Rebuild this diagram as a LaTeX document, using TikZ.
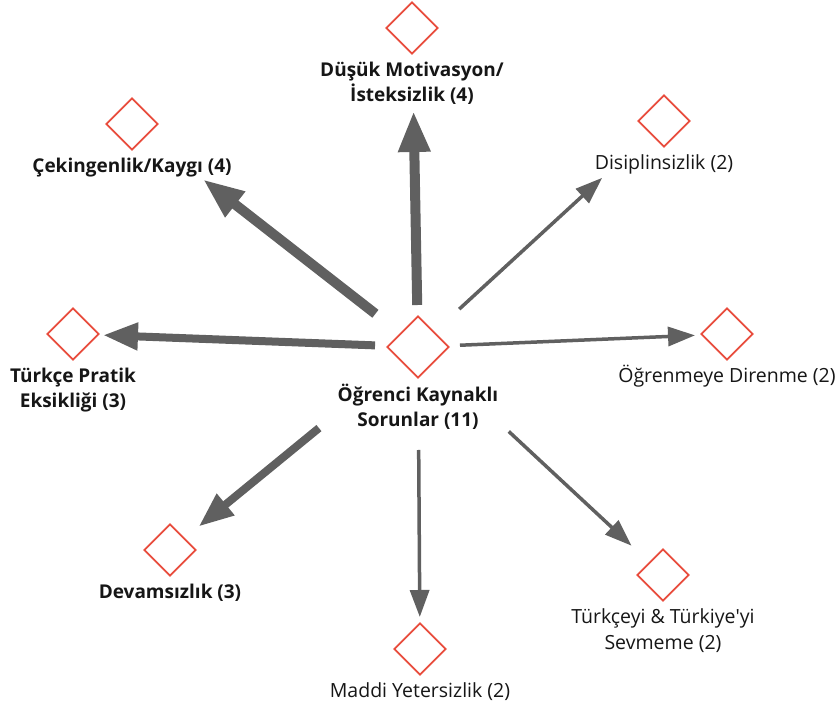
\documentclass[tikz,border=0pt]{standalone}
\usepackage{fontspec}
\setmainfont{Open Sans}
\usetikzlibrary{shapes,arrows.meta,positioning}

\definecolor{codered}{RGB}{232,76,61}
\definecolor{linkgray}{RGB}{96,96,96}
\definecolor{labelblack}{RGB}{22,22,22}

\begin{document}
\begin{tikzpicture}[x=1pt, y=-1pt,
    codebox/.style={diamond, draw=codered, line width=1.8pt, minimum width=52pt, minimum height=52pt, inner sep=0pt},
    boldlabel/.style={inner sep=0pt, align=center, text=labelblack, font=\fontsize{19}{25}\selectfont\bfseries},
    plainlabel/.style={inner sep=0pt, align=center, text=labelblack, font=\fontsize{19.5}{26}\selectfont},
    heavy/.style={draw=linkgray, line width=10pt, -{Triangle[length=41pt, width=30pt]}},
    medium/.style={draw=linkgray, line width=8pt, -{Triangle[length=35pt, width=26pt]}},
    light/.style={draw=linkgray, line width=3.5pt, -{Triangle[length=27pt, width=19pt]}}]
    \useasboundingbox (0,0) rectangle (837,708);

    % codes
    \node (main) [codebox, minimum width=62pt, minimum height=62pt] at (418,347) {};
    \node (motiv) [codebox] at (412,28) {};
    \node (kaygi) [codebox] at (132,124) {};
    \node (disip) [codebox] at (664,121) {};
    \node (pratik) [codebox] at (73,334) {};
    \node (direnc) [codebox] at (727,334) {};
    \node (devam) [codebox] at (170,550) {};
    \node (maddi) [codebox] at (420,649) {};
    \node (sevme) [codebox] at (663,575) {};

    % labels
    \node (mainlbl) [boldlabel, below=5pt of main] {Öğrenci Kaynaklı\\Sorunlar (11)};
    \node (motivlbl) [boldlabel, below=7pt of motiv] {Düşük Motivasyon/\\İsteksizlik (4)};
    \node (kaygilbl) [boldlabel, below=7pt of kaygi] {Çekingenlik/Kaygı (4)};
    \node (disiplbl) [plainlabel, below=7pt of disip] {Disiplinsizlik (2)};
    \node (pratiklbl) [boldlabel, below=7pt of pratik] {Türkçe Pratik\\Eksikliği (3)};
    \node (direnclbl) [plainlabel, below=4pt of direnc] {Öğrenmeye Direnme (2)};
    \node (devamlbl) [boldlabel, below=7pt of devam] {Devamsızlık (3)};
    \node (maddilbl) [plainlabel, below=7pt of maddi] {Maddi Yetersizlik (2)};
    \node (sevmelbl) [plainlabel, below=7pt of sevme] {Türkçeyi \& Türkiye\textquotesingle yi\\Sevmeme (2)};

    % links
    \draw[heavy, shorten <=42pt, shorten >=83pt] (main.center) -- (motiv.center);
    \draw[heavy, shorten <=54pt, shorten >=90pt] (main.center) -- (kaygi.center);
    \draw[light, shorten <=56pt, shorten >=84pt] (main.center) -- (disip.center);
    \draw[medium, shorten <=43pt, shorten >=30pt] (main.center) -- (pratik.center);
    \draw[light, shorten <=42pt, shorten >=32pt] (main.center) -- (direnc.center);
    \draw[medium, shorten <=128pt, shorten >=37pt] (main.center) -- (devam.center);
    \draw[light, shorten <=103pt, shorten >=32pt] (main.center) -- (maddi.center);
    \draw[light, shorten <=124pt, shorten >=43pt] (main.center) -- (sevme.center);
\end{tikzpicture}
\end{document}
